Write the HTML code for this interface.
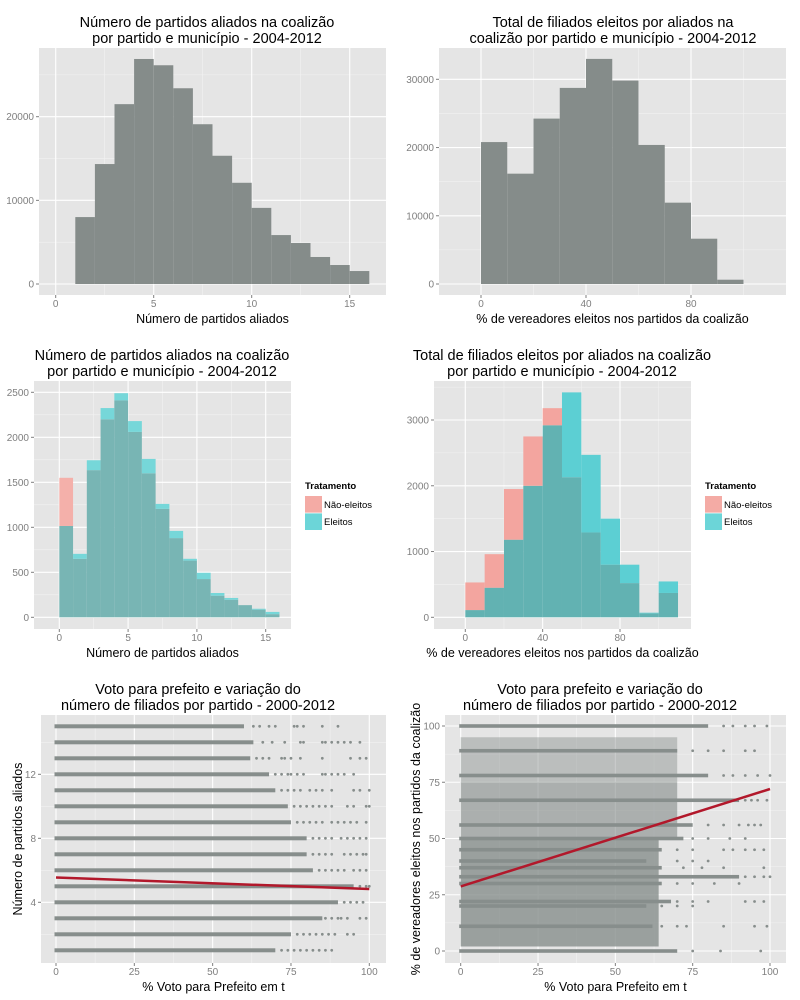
<!DOCTYPE html>
<html><head><meta charset="utf-8">
<style>
html,body{margin:0;padding:0;background:#fff;}
svg{display:block;font-family:"Liberation Sans",sans-serif;}
</style></head>
<body>
<svg id="chart" width="800" height="1000" viewBox="0 0 800 1000" xmlns="http://www.w3.org/2000/svg"></svg>
<script>
// ---- data ----
const h1Bins = [1,2,3,4,5,6,7,8,9,10,11,12,13,14,15];
const h1Counts = [8000,14340,21500,26900,26150,23400,19100,15330,12100,9100,5850,4900,3230,2270,1550];
const h1XTicks = [0,5,10,15];
const h1YTicks = [0,10000,20000];

const h2Bins = [0,10,20,30,40,50,60,70,80,90];
const h2Counts = [20800,16170,24240,28740,32990,29810,20380,11920,6640,630];
const h2XTicks = [0,40,80];
const h2YTicks = [0,10000,20000,30000];

const h3Bins = [0,1,2,3,4,5,6,7,8,9,10,11,12,13,14,15];
const h3Nao = [1550,650,1635,2200,2410,2060,1600,1205,880,630,425,240,195,135,85,35];
const h3Ele = [1015,705,1745,2325,2490,2180,1760,1260,960,650,495,270,215,135,95,60];
const h3XTicks = [0,5,10,15];
const h3YTicks = [0,500,1000,1500,2000,2500];

const h4Bins = [0,10,20,30,40,50,60,70,80,90,100];
const h4Nao = [530,960,1950,2750,3180,2130,1290,800,520,60,370];
const h4Ele = [110,450,1180,2000,2920,3420,2470,1500,800,70,545];
const h4XTicks = [0,40,80];
const h4YTicks = [0,1000,2000,3000];

const s1Levels = [15,14,13,12,11,10,9,8,7,6,5,4,3,2,1];
const s1DenseEnd = [60,63,62,68,70,74,75,80,80,82,95,90,85,75,70];
const s1Sparse = [
 [63,65,68,70,76,77,79,85,90],[66,69,73,78,79,85,86,88,90,92,94,97],[64,66,68,72,73,75,78,85,94,97,99],
 [70,72,74,75,77,79,85,86,88,90,92,95],[72,74,76,78,81,83,85,88,95,97,100],[76,78,80,82,84,86,88,93,95,99,100],
 [77,79,81,83,85,88,90,92,94,96,99],[82,84,86,88,91,93,95,97,99],[82,84,86,88,92,94,96,98,99],
 [84,86,88,90,92,95,97,99],[97,99,100],[92,94,96,98],[86,88,90,91,93,97,99],[77,79,81,83,85,87,89,93,95],
 [72,74,76,78,80,82,84,86,88]];
const s1Fit = [5.55,4.83];
const s1XTicks = [0,25,50,75,100];
const s1YTicks = [4,8,12];

const s2Levels = [100,89,78,67,56,50,45,40,37,33,30,22,20,11,0];
const s2DenseEnd = [80,70,80,90,75,72,65,60,65,90,65,68,60,62,70];
const s2Sparse = [
 [85,88,92,95,99],[75,80,85,92,95],[85,88,92,96,100],[92,94,96,99],[80,85,90,93,95,97],[75,80,87,92],
 [70,75,85,88,92,95,98],[70,75,80],[72,78,85,98],[92,95,98,100],[70,75,82,90],[70,75,80,92,95,98],[65,70,75],
 [65,70,73,85,95,99],[75,84,97]];
const s2BandLo = [2,50,75];
const s2BandHi = [50,75,95];
const s2BandEnd = [64,70,70];
const s2BandAlpha = [0.8,0.62,0.45];
const s2Fit = [28.7,72];
const s2XTicks = [0,25,50,75,100];
const s2YTicks = [0,25,50,75,100];

// ---- rendering ----
const NS = "http://www.w3.org/2000/svg";
const svg = document.getElementById('chart');
function mk(tag, attrs, parent){
  const e = document.createElementNS(NS, tag);
  for (const k in attrs) e.setAttribute(k, attrs[k]);
  (parent||svg).appendChild(e);
  return e;
}
function lin(d0,p0,d1,p1){ return v => p0 + (v-d0)*(p1-p0)/(d1-d0); }

function panel(name, box, sx, sy, xt, yt, title, xtitle, ytitle, tcx){
  const g = mk('g', {});
  
  
  const bg = mk('rect', {x:box[0], y:box[1], width:box[2]-box[0], height:box[3]-box[1], fill:'#E5E5E5'}, g);
  
  
  const minors = (t) => { const m=[]; for(let i=0;i<t.length-1;i++) m.push((t[i]+t[i+1])/2); if(t.length>1){ const st=t[1]-t[0]; m.push(t[0]-st/2); m.push(t[t.length-1]+st/2);} return m; };
  minors(xt).forEach(v=>{ const x=sx(v); if(x>box[0]&&x<box[2]) mk('line',{x1:x,x2:x,y1:box[1],y2:box[3],stroke:'#F2F2F2','stroke-width':0.6},g); });
  minors(yt).forEach(v=>{ const y=sy(v); if(y>box[1]&&y<box[3]) mk('line',{x1:box[0],x2:box[2],y1:y,y2:y,stroke:'#F2F2F2','stroke-width':0.6},g); });
  xt.forEach(v=>{ const x=sx(v);
    mk('line',{x1:x,x2:x,y1:box[1],y2:box[3],stroke:'#fff','stroke-width':1.1},g);
    mk('line',{x1:x,x2:x,y1:box[3],y2:box[3]+3,stroke:'#7F7F7F','stroke-width':1},g);
    const t=mk('text',{x:x,y:box[3]+12,'text-anchor':'middle','font-size':10,fill:'#7F7F7F'},g); t.textContent=v;
      });
  yt.forEach(v=>{ const y=sy(v);
    mk('line',{x1:box[0],x2:box[2],y1:y,y2:y,stroke:'#fff','stroke-width':1.1},g);
    mk('line',{x1:box[0]-3,x2:box[0],y1:y,y2:y,stroke:'#7F7F7F','stroke-width':1},g);
    const t=mk('text',{x:box[0]-5,y:y+3.5,'text-anchor':'end','font-size':10,fill:'#7F7F7F'},g); t.textContent=v;
      });
  const tt=mk('text',{x:tcx,y:box[1]-21,'text-anchor':'middle','font-size':14.5,fill:'#000'},g);
   
  title.forEach((l,i)=>{ const s=mk('tspan',{x:tcx,dy:i?16:0},tt); s.textContent=l; });
  const xa=mk('text',{x:(box[0]+box[2])/2,y:box[3]+28,'text-anchor':'middle','font-size':12.5,fill:'#000'},g); xa.textContent=xtitle;
   
  if(ytitle){ const cy=(box[1]+box[3])/2; const ya=mk('text',{x:ytitle[1],y:cy,'text-anchor':'middle','font-size':12.5,fill:'#000',transform:`rotate(-90 ${ytitle[1]} ${cy})`},g); ya.textContent=ytitle[0];
      }
  return g;
}
function bar(g, x0,x1,y0,y1,fill,name){
  const r=mk('rect',{x:Math.min(x0,x1),y:Math.min(y0,y1),width:Math.abs(x1-x0),height:Math.abs(y1-y0),fill:fill},g);
  
  
}
function legend(x, y){
  const g=mk('g',{});
  
  
  const t=mk('text',{x:x,y:y,'font-size':9.5,'font-weight':'bold',fill:'#000'},g); t.textContent='Tratamento';
  const k1=mk('rect',{x:x,y:y+7,width:17,height:17,fill:'#F4ABA5'},g);
   
  const k2=mk('rect',{x:x,y:y+24,width:17,height:17,fill:'#6CD5D8'},g);
   
  mk('line',{x1:x,x2:x+17,y1:y+24,y2:y+24,stroke:'#fff','stroke-width':0.8},g);
  const a=mk('text',{x:x+19,y:y+19,'font-size':9.5,fill:'#000'},g); a.textContent='Não-eleitos';
  const b=mk('text',{x:x+19,y:y+36,'font-size':9.5,fill:'#000'},g); b.textContent='Eleitos';
}

// Panel 1
{ const box=[39,48,386,295]; const sx=lin(0,55.7,15,349.7), sy=lin(0,284,20000,116.7);
  const g=panel('histogram-partidos-aliados',box,sx,sy,h1XTicks,h1YTicks,['Número de partidos aliados na coalizão','por partido e município - 2004-2012'],'Número de partidos aliados',null,207);
  h1Bins.forEach((b,i)=>bar(g,sx(b),sx(b+1),sy(0),sy(h1Counts[i]),'#858C8A','bar')); }
// Panel 2
{ const box=[439,48,786,295]; const sx=lin(0,481,40,586), sy=lin(0,284,30000,79.3);
  const g=panel('histogram-vereadores-eleitos',box,sx,sy,h2XTicks,h2YTicks,['Total de filiados eleitos por aliados na','coalizão por partido e município - 2004-2012'],'% de vereadores eleitos nos partidos da coalizão',null,613);
  h2Bins.forEach((b,i)=>bar(g,sx(b),sx(b+10),sy(0),sy(h2Counts[i]),'#858C8A','bar')); }
// Panel 3
{ const box=[34,381,291,629]; const sx=lin(0,59.3,15,265.7), sy=lin(0,617.3,2500,392.3);
  const g=panel('histogram-aliados-por-tratamento',box,sx,sy,h3XTicks,h3YTicks,['Número de partidos aliados na coalizão','por partido e município - 2004-2012'],'Número de partidos aliados',null,162);
  h3Bins.forEach((b,i)=>{ const lo=Math.min(h3Nao[i],h3Ele[i]), hi=Math.max(h3Nao[i],h3Ele[i]);
    bar(g,sx(b),sx(b+1),sy(0),sy(lo),'#78B5B4','bar-overlap');
    bar(g,sx(b),sx(b+1),sy(lo),sy(hi),h3Nao[i]>h3Ele[i]?'#F4B0AA':'#76D7D9',h3Nao[i]>h3Ele[i]?'bar-nao-eleitos':'bar-eleitos'); });
  legend(305,489); }
// Panel 4
{ const box=[434,381,691,629]; const sx=lin(0,465.3,80,620), sy=lin(0,617.3,3000,420);
  const g=panel('histogram-vereadores-por-tratamento',box,sx,sy,h4XTicks,h4YTicks,['Total de filiados eleitos por aliados na coalizão','por partido e município - 2004-2012'],'% de vereadores eleitos nos partidos da coalizão',null,562);
  h4Bins.forEach((b,i)=>{ const lo=Math.min(h4Nao[i],h4Ele[i]), hi=Math.max(h4Nao[i],h4Ele[i]);
    bar(g,sx(b),sx(b+10),sy(0),sy(lo),'#62B2B2','bar-overlap');
    bar(g,sx(b),sx(b+10),sy(lo),sy(hi),h4Nao[i]>h4Ele[i]?'#F3A59F':'#5CCFD3',h4Nao[i]>h4Ele[i]?'bar-nao-eleitos':'bar-eleitos'); });
  legend(705,489); }
// Panel 5
{ const box=[41,715,386,963]; const sx=lin(0,56,100,369.3), sy=lin(4,902.3,12,774.3);
  const g=panel('scatter-voto-aliados',box,sx,sy,s1XTicks,s1YTicks,['Voto para prefeito e variação do','número de filiados por partido - 2000-2012'],'% Voto para Prefeito em t',['Número de partidos aliados',22],198);
  s1Levels.forEach((lv,i)=>{
    const r=mk('rect',{x:sx(0)-1.5,y:sy(lv)-2,width:sx(s1DenseEnd[i])-sx(0)+1.5,height:4,fill:'#878E8C'},g);
     
    s1Sparse[i].forEach(v=>{ const c=mk('circle',{cx:sx(v),cy:sy(lv),r:1.4,fill:'#878E8C'},g);
        }); });
  const fl=mk('line',{x1:sx(0),y1:sy(s1Fit[0]),x2:sx(100),y2:sy(s1Fit[1]),stroke:'#B2182B','stroke-width':2.5},g);
    }
// Panel 6
{ const box=[445,715,786,963]; const sx=lin(0,460.7,100,770), sy=lin(0,951,100,726);
  const g=panel('scatter-voto-vereadores',box,sx,sy,s2XTicks,s2YTicks,['Voto para prefeito e variação do','número de filiados por partido - 2000-2012'],'% Voto para Prefeito em t',['% de vereadores eleitos nos partidos da coalizão',420],600);
  s2BandLo.forEach((lo,i)=>{ const r=mk('rect',{x:sx(0),y:sy(s2BandHi[i]),width:sx(s2BandEnd[i])-sx(0),height:sy(lo)-sy(s2BandHi[i]),fill:'#878E8C','fill-opacity':s2BandAlpha[i]},g);
      });
  s2Levels.forEach((lv,i)=>{
    const r=mk('rect',{x:sx(0)-1.5,y:sy(lv)-1.8,width:sx(s2DenseEnd[i])-sx(0)+1.5,height:3.6,fill:'#878E8C'},g);
     
    s2Sparse[i].forEach(v=>{ const c=mk('circle',{cx:sx(v),cy:sy(lv),r:1.4,fill:'#878E8C'},g);
        }); });
  const fl=mk('line',{x1:sx(0),y1:sy(s2Fit[0]),x2:sx(100),y2:sy(s2Fit[1]),stroke:'#B2182B','stroke-width':2.5},g);
    }
</script>
</body></html>
